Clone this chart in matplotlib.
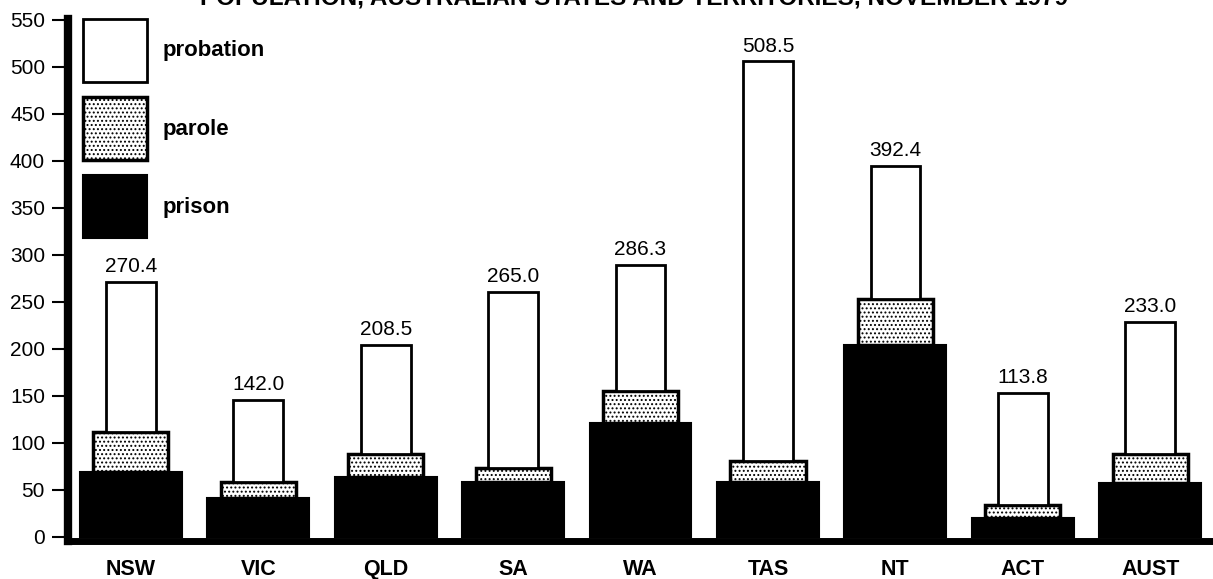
import numpy as np
import matplotlib
matplotlib.use("Agg")
import matplotlib.pyplot as plt

plt.rcParams['font.family'] = ['Liberation Sans', 'DejaVu Sans']
plt.rcParams['hatch.linewidth'] = 0.9

# data (segment heights, bottom to top)
states = ["NSW", "VIC", "QLD", "SA", "WA", "TAS", "NT", "ACT", "AUST"]
prison = [69, 41, 64, 58, 121, 58, 204, 20, 57]
parole = [42, 17, 24, 15, 34, 23, 49, 14, 31]
probation = [160, 88, 116, 188, 134, 425, 142, 119, 141]
total_labels = ["270.4", "142.0", "208.5", "265.0", "286.3", "508.5", "392.4", "113.8", "233.0"]
yticks = [0, 50, 100, 150, 200, 250, 300, 350, 400, 450, 500, 550]

x = np.arange(len(states))
prison = np.array(prison)
parole = np.array(parole)
probation = np.array(probation)

fig = plt.figure(figsize=(12.13, 5.79), dpi=100)
ax = fig.add_axes([0.056, 0.0656, 0.944, 0.9016])

b1 = ax.bar(x, prison, width=0.80, color='black', edgecolor='black', linewidth=1.5, label='prison')
b2 = ax.bar(x, parole, width=0.59, bottom=prison, color='white', edgecolor='black',
            linewidth=2.5, hatch='....', label='parole')
b3 = ax.bar(x, probation, width=0.39, bottom=prison + parole, color='white', edgecolor='black',
            linewidth=2.0, label='probation')

tops = prison + parole + probation
for xi, top, lab in zip(x, tops, total_labels):
    ax.annotate(lab, (xi, top), xytext=(0, 7), textcoords='offset points',
                ha='center', va='baseline', fontsize=15)

ax.set_xlim(-0.494, 8.493)
ax.set_ylim(-4.5, 551)
ax.set_yticks(yticks)
ax.set_xticks(x)
ax.set_xticklabels(states, fontsize=15.5, fontweight='bold')
ax.tick_params(axis='x', length=0, pad=13)
ax.tick_params(axis='y', length=11.5, width=1.5, pad=5, labelsize=15, direction='out')

for side in ['top', 'right']:
    ax.spines[side].set_visible(False)
ax.spines['left'].set_linewidth(6)
ax.spines['bottom'].set_linewidth(5)
ax.spines['left'].set_bounds(-4.5, 551)

ax.legend(handles=[b3, b2, b1], loc='upper left', bbox_to_anchor=(0.0131, 1.0),
          frameon=False, prop={'weight': 'bold', 'size': 16},
          handlelength=2.88, handleheight=3.99, labelspacing=0.68,
          handletextpad=0.72, borderpad=0, borderaxespad=0)

fig.text(0.523, 0.993, "POPULATION, AUSTRALIAN STATES AND TERRITORIES, NOVEMBER 1979",
         ha='center', va='baseline', fontsize=17.5, fontweight='bold')

fig.savefig("out.png", dpi=100)
